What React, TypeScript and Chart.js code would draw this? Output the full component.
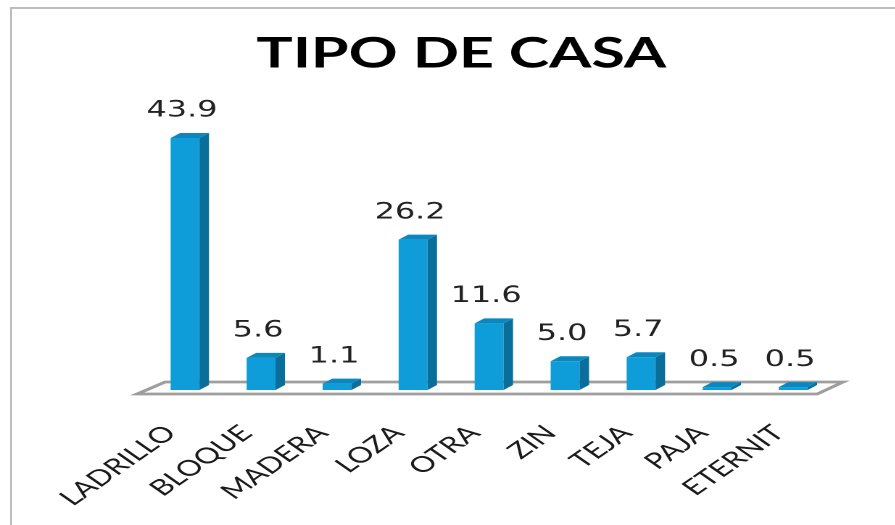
import React, { useEffect, useRef } from 'react';
import { Chart, registerables } from 'chart.js';

Chart.register(...registerables);

const categories = ['LADRILLO', 'BLOQUE', 'MADERA', 'LOZA', 'OTRA', 'ZIN', 'TEJA', 'PAJA', 'ETERNIT'];
const values = [43.9, 5.6, 1.1, 26.2, 11.6, 5.0, 5.7, 0.5, 0.5];
const chartTitle = 'TIPO DE CASA';

const W = 895;
const H = 525;
const STRETCH = 1.45;
const CW = W / STRETCH;

const FRONT = '#0e9dd9';
const SIDE = '#0a6e9b';
const TOP = '#0b87c0';

const floorPlugin = {
  id: 'floor3d',
  beforeDatasetsDraw(chart: any) {
    const { ctx, chartArea: ca } = chart;
    ctx.save();
    const fy = ca.bottom + 4;
    const by = ca.bottom - 8;
    ctx.beginPath();
    ctx.moveTo(ca.left - 10 / STRETCH, fy);
    ctx.lineTo(ca.right - 14 / STRETCH, fy);
    ctx.lineTo(ca.right + 12 / STRETCH, by);
    ctx.lineTo(ca.left + 18 / STRETCH, by);
    ctx.closePath();
    ctx.fillStyle = '#ffffff';
    ctx.fill();
    ctx.lineWidth = 2.8;
    ctx.strokeStyle = '#9e9e9e';
    ctx.stroke();
    ctx.restore();
  },
};

const bar3dPlugin = {
  id: 'bar3d',
  afterDatasetsDraw(chart: any) {
    const { ctx } = chart;
    const meta = chart.getDatasetMeta(0);
    const dx = 9.5 / STRETCH;
    const dy = -5;
    ctx.save();
    meta.data.forEach((bar: any, i: number) => {
      const { x, y, base, width } = bar.getProps(['x', 'y', 'base', 'width'], true);
      const l = x - width / 2;
      const r = x + width / 2;
      ctx.beginPath();
      ctx.moveTo(r, y);
      ctx.lineTo(r + dx, y + dy);
      ctx.lineTo(r + dx, base + dy);
      ctx.lineTo(r, base);
      ctx.closePath();
      ctx.fillStyle = SIDE;
      ctx.fill();
      ctx.beginPath();
      ctx.moveTo(l, y);
      ctx.lineTo(l + dx, y + dy);
      ctx.lineTo(r + dx, y + dy);
      ctx.lineTo(r, y);
      ctx.closePath();
      ctx.fillStyle = TOP;
      ctx.fill();
      ctx.fillStyle = '#222222';
      ctx.font = '22px "DejaVu Sans"';
      ctx.textAlign = 'center';
      ctx.textBaseline = 'middle';
      ctx.fillText(values[i].toFixed(1), x - 3 / STRETCH, y - 27);
    });
    ctx.restore();
  },
};

export default function App() {
  const ref = useRef<HTMLCanvasElement | null>(null);

  useEffect(() => {
    if (!ref.current) return;
    const chart = new Chart(ref.current, {
      type: 'bar',
      data: {
        labels: categories,
        datasets: [
          {
            data: values,
            backgroundColor: FRONT,
            borderWidth: 0,
            barPercentage: 0.38,
            categoryPercentage: 1,
          },
        ],
      },
      options: {
        animation: false,
        responsive: true,
        maintainAspectRatio: false,
        devicePixelRatio: 2,
        layout: { padding: { left: 63, right: 44, top: 0, bottom: 0 } },
        plugins: {
          legend: { display: false },
          tooltip: { enabled: false },
          title: {
            display: true,
            text: chartTitle,
            color: '#000000',
            font: { family: 'Lato', size: 42, weight: 'bold', lineHeight: 1.2 },
            padding: { top: 29, bottom: 23.6 },
          },
        },
        scales: {
          x: {
            grid: { display: false, drawTicks: false },
            border: { display: false },
            ticks: {
              color: '#1a1a1a',
              font: { family: 'Lato', size: 22 },
              minRotation: 45,
              maxRotation: 45,
              autoSkip: false,
              padding: 30,
              labelOffset: -10,
            },
            afterFit: (scale: any) => {
              scale.height = 135;
            },
          },
          y: {
            display: true,
            min: 0,
            max: 50,
            grid: { display: false, drawTicks: false },
            border: { display: false },
            ticks: { display: false },
            afterFit: (scale: any) => {
              scale.width = 38.4;
            },
          },
        },
      },
      plugins: [floorPlugin, bar3dPlugin],
    });
    return () => chart.destroy();
  }, []);

  return (
    <div style={{ position: 'fixed', left: 0, top: 0, width: W, height: H, overflow: 'hidden', background: '#fff' }}>
      <div
        style={{
          position: 'absolute',
          left: 10,
          top: 7,
          width: 1000,
          height: 1000,
          border: '2px solid #bdbdbd',
          boxSizing: 'border-box',
        }}
      />
      <div
        style={{
          position: 'absolute',
          left: 0,
          top: 0,
          width: CW,
          height: H,
          transform: `scaleX(${STRETCH})`,
          transformOrigin: '0 0',
        }}
      >
        <canvas ref={ref} />
      </div>
    </div>
  );
}
